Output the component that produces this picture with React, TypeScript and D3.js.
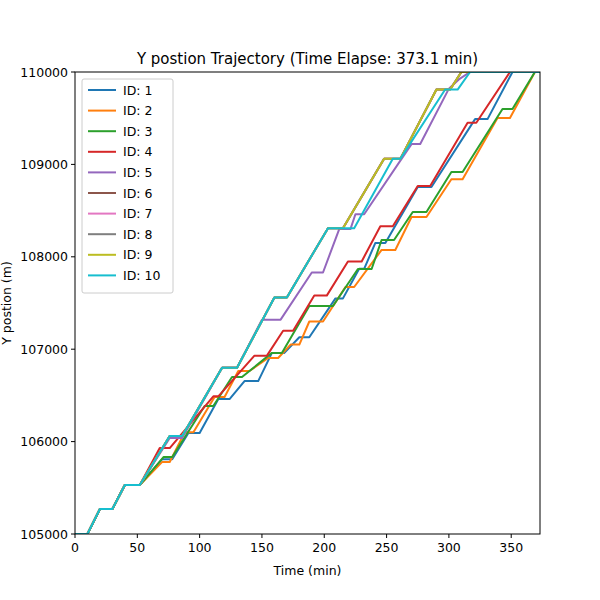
import React from 'react';
import * as d3 from 'd3';

const start: [number, number][] = [[0, 105000], [10, 105000], [20, 105270], [30, 105270], [40, 105530], [52, 105530]];
const fast: [number, number][] = [[76, 106060], [86, 106060], [118, 106800], [130, 106800], [160, 107560], [170, 107560], [203, 108310]];

const s1: [number, number][] = [...start, [70, 105810], [78, 105810], [91, 106093], [100, 106093], [115, 106460], [124, 106460], [136, 106655], [147, 106655], [158, 106960], [168, 106960], [180, 107130], [188, 107130], [209, 107550], [215, 107550], [228, 107870], [232, 107870], [241, 108150], [249, 108150], [275, 108755], [286, 108755], [321, 109490], [331, 109490], [351, 110000], [373.1, 110000]];
const s2: [number, number][] = [...start, [70, 105780], [76, 105780], [88, 106100], [95, 106100], [112, 106483], [120, 106483], [131, 106764], [140, 106764], [155, 106905], [163, 106905], [173, 107050], [180, 107050], [188, 107300], [199, 107300], [217, 107673], [224, 107673], [246, 108074], [257, 108074], [270, 108431], [282, 108431], [302, 108840], [311, 108840], [339, 109502], [349, 109502], [369, 110000], [373.1, 110000]];
const s3: [number, number][] = [...start, [71, 105833], [78, 105833], [104, 106385], [111, 106385], [126, 106700], [134, 106700], [158, 106960], [166, 106960], [188, 107467], [207, 107467], [227, 107868], [238, 107868], [246, 108182], [256, 108182], [271, 108485], [282, 108485], [302, 108918], [311, 108918], [343, 109600], [351, 109600], [369, 110000], [373.1, 110000]];
const s4: [number, number][] = [...start, [68, 105930], [76, 105930], [111, 106490], [115, 106490], [144, 106930], [154, 106930], [167, 107200], [175, 107200], [192, 107580], [202, 107580], [219, 107950], [230, 107950], [245, 108330], [255, 108330], [275, 108766], [285, 108766], [315, 109450], [322, 109450], [349, 110000], [373.1, 110000]];
const s5: [number, number][] = [...start, [76, 106040], [86, 106040], [118, 106800], [130, 106800], [150, 107320], [165, 107320], [190, 107830], [199, 107830], [212, 108300], [221, 108300], [225, 108460], [232, 108460], [270, 109220], [277, 109220], [300, 109820], [308, 109920], [317, 110000], [373.1, 110000]];
const main: [number, number][] = [...start, ...fast, [215, 108310], [248, 109060], [261, 109060], [290, 109810], [301, 109810], [310, 110000], [373.1, 110000]];
const s10: [number, number][] = [...start, ...fast, [224, 108310], [255, 109060], [261, 109060], [297, 109810], [307, 109810], [317, 110000], [373.1, 110000]];

const ids = ['ID: 1', 'ID: 2', 'ID: 3', 'ID: 4', 'ID: 5', 'ID: 6', 'ID: 7', 'ID: 8', 'ID: 9', 'ID: 10'];
const series = [s1, s2, s3, s4, s5, main, main, main, main, s10];
const colors = ['#1f77b4', '#ff7f0e', '#2ca02c', '#d62728', '#9467bd', '#8c564b', '#e377c2', '#7f7f7f', '#bcbd22', '#17becf'];
const xTicks = [0, 50, 100, 150, 200, 250, 300, 350];
const yTicks = [105000, 106000, 107000, 108000, 109000, 110000];

const left = 75, right = 540, top = 72, bottom = 534;

export default function App() {
  const x = d3.scaleLinear().domain([0, 373.1]).range([left, right]);
  const y = d3.scaleLinear().domain([105000, 110000]).range([bottom, top]);
  const line = d3.line<[number, number]>().x(d => x(d[0])).y(d => y(d[1]));
  const font = 'DejaVu Sans, sans-serif';
  return (
    <svg width={600} height={600} style={{ position: 'absolute', left: 0, top: 0 }} fontFamily={font}>
      <rect width={600} height={600} fill="#fff" />
      <defs>
        <clipPath id="plot"><rect x={left} y={top} width={right - left} height={bottom - top} /></clipPath>
      </defs>
      <g clipPath="url(#plot)">
        {series.map((s, i) => (
          <path key={i} d={line(s) || ''} fill="none" stroke={colors[i]} strokeWidth={2} strokeLinejoin="round" />
        ))}
      </g>
      <rect x={left} y={top} width={right - left} height={bottom - top} fill="none" stroke="#000" strokeWidth={1} />
      {xTicks.map(t => (
        <g key={t}>
          <line x1={x(t)} x2={x(t)} y1={bottom} y2={bottom + 4} stroke="#000" />
          <text x={x(t)} y={bottom + 18} fontSize={12.5} textAnchor="middle">{t}</text>
        </g>
      ))}
      {yTicks.map(t => (
        <g key={t}>
          <line x1={left - 4} x2={left} y1={y(t)} y2={y(t)} stroke="#000" />
          <text x={left - 7} y={y(t) + 4.5} fontSize={12.5} textAnchor="end">{t}</text>
        </g>
      ))}
      <text x={(left + right) / 2} y={575} fontSize={12.5} textAnchor="middle">Time (min)</text>
      <text transform={`translate(11,${(top + bottom) / 2}) rotate(-90)`} fontSize={12.5} textAnchor="middle">Y postion (m)</text>
      <text x={(left + right) / 2} y={64} fontSize={15} textAnchor="middle">Y postion Trajectory (Time Elapse: 373.1 min)</text>
      <rect x={82} y={79} width={91} height={214} rx={2} fill="#fff" fillOpacity={0.8} stroke="#ccc" />
      {ids.map((id, i) => (
        <g key={id}>
          <line x1={88} x2={116} y1={90 + i * 20.6} y2={90 + i * 20.6} stroke={colors[i]} strokeWidth={2} />
          <text x={123} y={94.5 + i * 20.6} fontSize={12.5}>{id}</text>
        </g>
      ))}
    </svg>
  );
}
